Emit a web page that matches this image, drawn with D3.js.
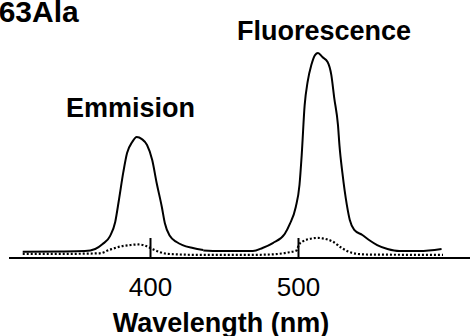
<!DOCTYPE html>
<html>
<head>
<meta charset="utf-8">
<script src="https://cdn.jsdelivr.net/npm/d3@7"></script>
<style>
  body { margin: 0; background: #fff; }
  svg { display: block; font-family: "Liberation Sans", Arial, sans-serif; }
</style>
</head>
<body>
<div id="chart"></div>
<script>
// emission spectrum (solid, left part)
var emWave = [314, 339, 356, 363, 368, 373, 376.5, 379, 382, 384.5, 388, 391, 394.5, 398, 401.5, 404.5, 408, 410, 413.5, 418, 422, 429, 436];
var emVal  = [3.1, 3.2, 3.4, 4.4, 6.8, 10.7, 17.6, 28.3, 42, 51.2, 56.6, 59, 58, 55.1, 47.8, 36.6, 24.9, 17.1, 10.7, 7.8, 6.3, 4.9, 3.9];

// fluorescence spectrum (solid, right part)
var flWave = [436, 447, 459, 469.5, 476, 483, 491, 494.5, 498.5, 501, 502.5, 504.5, 506.5, 509, 511.5, 513.5, 516.5, 520, 522.5, 524.5, 527, 528, 530, 533, 535, 538, 543.5, 548, 553.5, 560.5, 568.5, 582, 597];
var flVal  = [3.7, 3.4, 3.4, 3.4, 4.9, 7.3, 11.7, 16.6, 24.9, 35.6, 50.2, 74.6, 85.9, 94.1, 99, 100, 98, 95.6, 89.3, 78, 64.9, 55.1, 41.5, 25.9, 18.5, 13.7, 11.2, 8.8, 6.3, 4.4, 3.4, 3.4, 4.4];

// control (dotted)
var ctWave = [314, 339, 366, 373, 380, 386.5, 392, 396.5, 401.5, 406.5, 412, 434, 467, 481, 492.5, 499, 500.5, 503, 510, 513.5, 516.5, 523.5, 530, 537, 546, 598];
var ctVal  = [2, 2, 2.3, 4.1, 5.6, 6.3, 6.6, 6.1, 4.4, 2.9, 2, 1.5, 1.5, 1.7, 2.6, 3.7, 6.3, 8, 9.6, 9.8, 9.6, 8, 4.7, 2.4, 1.7, 1.5];

var tickValues = [400, 500];
var title = "163Ala";
var xLabel = "Wavelength (nm)";
var peakLabels = ["Emmision", "Fluorescence"];

var width = 470,
    height = 336;

var svg = d3.select("#chart").append("svg")
    .attr("width", width)
    .attr("height", height);

var x = d3.scaleLinear()
    .domain([300, 600])
    .range([2, 446]);

var y = d3.scaleLinear()
    .domain([0, 100])
    .range([258, 53]);

var line = d3.line()
    .x(function(d) { return x(d[0]); })
    .y(function(d) { return y(d[1]); })
    .curve(d3.curveMonotoneX);

function pairs(w, v) {
  return w.map(function(d, i) { return [d, v[i]]; });
}

// axis
var axis = svg.append("g")
    .attr("transform", "translate(0,258)")
    .call(d3.axisBottom(x)
      .tickValues(tickValues)
      .tickSizeInner(-20)
      .tickSizeOuter(0)
      .tickPadding(20)
      .tickFormat(d3.format("d")));

axis.select(".domain").remove();
axis.selectAll(".tick line")
    .attr("stroke", "#000")
    .attr("stroke-width", 2);
axis.selectAll(".tick text")
    .attr("font-size", 26)
    .attr("font-family", "Liberation Sans, Arial, sans-serif")
    .attr("fill", "#000");

axis.append("line")
    .attr("x1", 9)
    .attr("x2", width)
    .attr("stroke", "#000")
    .attr("stroke-width", 2);

// curves
svg.append("path")
    .datum(pairs(ctWave, ctVal))
    .attr("fill", "none")
    .attr("stroke", "#000")
    .attr("stroke-width", 2.2)
    .attr("stroke-dasharray", "2,2")
    .attr("d", line);

[pairs(emWave, emVal), pairs(flWave, flVal)].forEach(function(s) {
  svg.append("path")
      .datum(s)
      .attr("fill", "none")
      .attr("stroke", "#000")
      .attr("stroke-width", 2)
      .attr("stroke-linejoin", "round")
      .attr("d", line);
});

// texts
svg.append("text")
    .attr("x", -18)
    .attr("y", 22)
    .attr("font-size", 30)
    .attr("font-weight", "bold")
    .text(title);

svg.append("text")
    .attr("x", 66)
    .attr("y", 117)
    .attr("font-size", 27)
    .attr("font-weight", "bold")
    .text(peakLabels[0]);

svg.append("text")
    .attr("x", 237)
    .attr("y", 40)
    .attr("font-size", 27)
    .attr("font-weight", "bold")
    .text(peakLabels[1]);

svg.append("text")
    .attr("x", 221)
    .attr("y", 332)
    .attr("text-anchor", "middle")
    .attr("font-size", 27)
    .attr("font-weight", "bold")
    .text(xLabel);
</script>
</body>
</html>
